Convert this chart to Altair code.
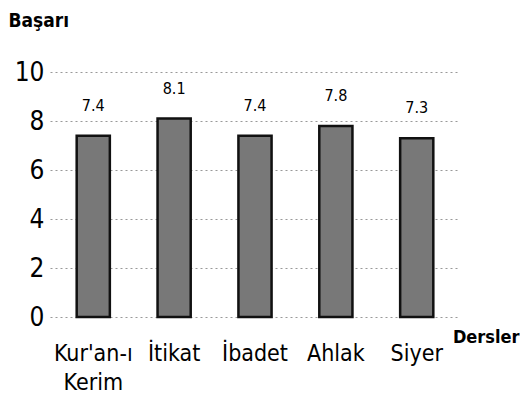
import altair as alt
import pandas as pd

categories = ["Kur'an-ı Kerim", "İtikat", "İbadet", "Ahlak", "Siyer"]
values = [7.4, 8.1, 7.4, 7.8, 7.3]
labels = ["7.4", "8.1", "7.4", "7.8", "7.3"]

df = pd.DataFrame({"ders": categories, "basari": values, "etiket": labels})

FONT = "DejaVu Sans Condensed"

x = alt.X(
    "ders:N",
    sort=categories,
    scale=alt.Scale(paddingInner=0.59, paddingOuter=0.33),
    axis=alt.Axis(
        title="Dersler",
        titleFont=FONT,
        titleFontSize=18,
        titleFontWeight="bold",
        titleColor="#000",
        titleAngle=0,
        titleX=469,
        titleY=20,
        titleAlign="right",
        titleBaseline="middle",
        labelAngle=0,
        labelExpr="split(datum.label, ' ')",
        labelFont=FONT,
        labelFontSize=23,
        labelColor="#000",
        labelPadding=25,
        labelBaseline="top",
        labelLineHeight=29,
        domain=False,
        ticks=False,
        grid=False,
    ),
)

y = alt.Y(
    "basari:Q",
    scale=alt.Scale(domain=[0, 10], nice=False),
    axis=alt.Axis(
        title="Başarı",
        titleFont=FONT,
        titleFontSize=19,
        titleFontWeight="bold",
        titleColor="#000",
        titleAngle=0,
        titleX=-42,
        titleY=-52,
        titleAlign="left",
        titleBaseline="middle",
        values=[0, 2, 4, 6, 8, 10],
        labelFont=FONT,
        labelFontSize=26,
        labelColor="#000",
        labelPadding=6,
        domain=False,
        ticks=False,
        grid=True,
        gridColor="#999",
        gridDash=[2, 3],
        gridWidth=1,
    ),
)

bars = alt.Chart(df).mark_bar(
    color="#787878", stroke="#111", strokeWidth=2.5
).encode(x=x, y=y)

text = alt.Chart(df).mark_text(
    font=FONT, fontSize=16, color="#000", dy=-22, baseline="bottom"
).encode(x=alt.X("ders:N", sort=categories), y="basari:Q", text="etiket:N")

chart = (
    alt.layer(bars, text)
    .properties(
        width=410,
        height=245,
        autosize=alt.AutoSizeParams(type="none"),
        padding={"left": 42, "top": 64, "right": 60, "bottom": 78},
    )
    .configure(background="white")
    .configure_view(stroke=None)
)

chart.save("out.html", embed_options={"renderer": "svg", "actions": False})
